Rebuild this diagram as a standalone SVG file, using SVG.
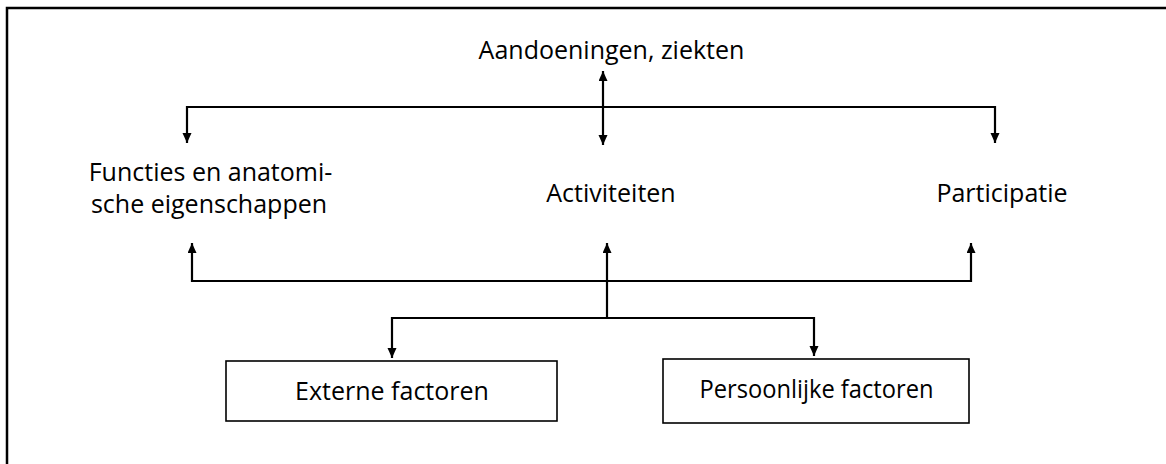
<svg xmlns="http://www.w3.org/2000/svg" width="1166" height="464" viewBox="0 0 1166 464">
  <defs>
    <marker id="arr" markerUnits="userSpaceOnUse" markerWidth="10" markerHeight="10" refX="10" refY="4.5" orient="auto-start-reverse">
      <path d="M0,0 L10,4.5 L0,9 z" fill="#000"/>
    </marker>
    <style>
      .lbl { font-family: "Open Sans", "Noto Sans", sans-serif; font-size: 25px; fill: #000; text-anchor: middle; }
      .conn { fill: none; stroke: #000; stroke-width: 2.2; }
      .box { fill: #fff; stroke: #000; stroke-width: 1.6; }
    </style>
  </defs>
  <rect width="1166" height="464" fill="#fff"/>
  <path d="M7,464 L7,8 L1166,8" fill="none" stroke="#000" stroke-width="2.5"/>

  <g id="connectors">
    <path class="conn" d="M187,143 L187,107 L995,107 L995,143" marker-start="url(#arr)" marker-end="url(#arr)"/>
    <path class="conn" d="M603,71 L603,145" marker-start="url(#arr)" marker-end="url(#arr)"/>
    <path class="conn" d="M192,243 L192,281 L971,281 L971,243" marker-start="url(#arr)" marker-end="url(#arr)"/>
    <path class="conn" d="M607,318 L607,243" marker-end="url(#arr)"/>
    <path class="conn" d="M392,358 L392,318 L814,318 L814,356" marker-start="url(#arr)" marker-end="url(#arr)"/>
  </g>

  <g id="node-aandoeningen">
    <text class="lbl" x="611.5" y="59">Aandoeningen, ziekten</text>
  </g>
  <g id="node-functies">
    <text class="lbl" x="210.5" y="181">Functies en anatomi-</text>
    <text class="lbl" x="209" y="213">sche eigenschappen</text>
  </g>
  <g id="node-activiteiten">
    <text class="lbl" x="611" y="202">Activiteiten</text>
  </g>
  <g id="node-participatie">
    <text class="lbl" x="1002" y="202">Participatie</text>
  </g>
  <g id="node-externe">
    <rect class="box" x="226" y="361" width="331" height="60"/>
    <text class="lbl" x="392" y="400">Externe factoren</text>
  </g>
  <g id="node-persoonlijk">
    <rect class="box" x="663" y="359" width="306" height="64"/>
    <text class="lbl" x="816.5" y="398" textLength="234" lengthAdjust="spacingAndGlyphs">Persoonlijke factoren</text>
  </g>
</svg>
